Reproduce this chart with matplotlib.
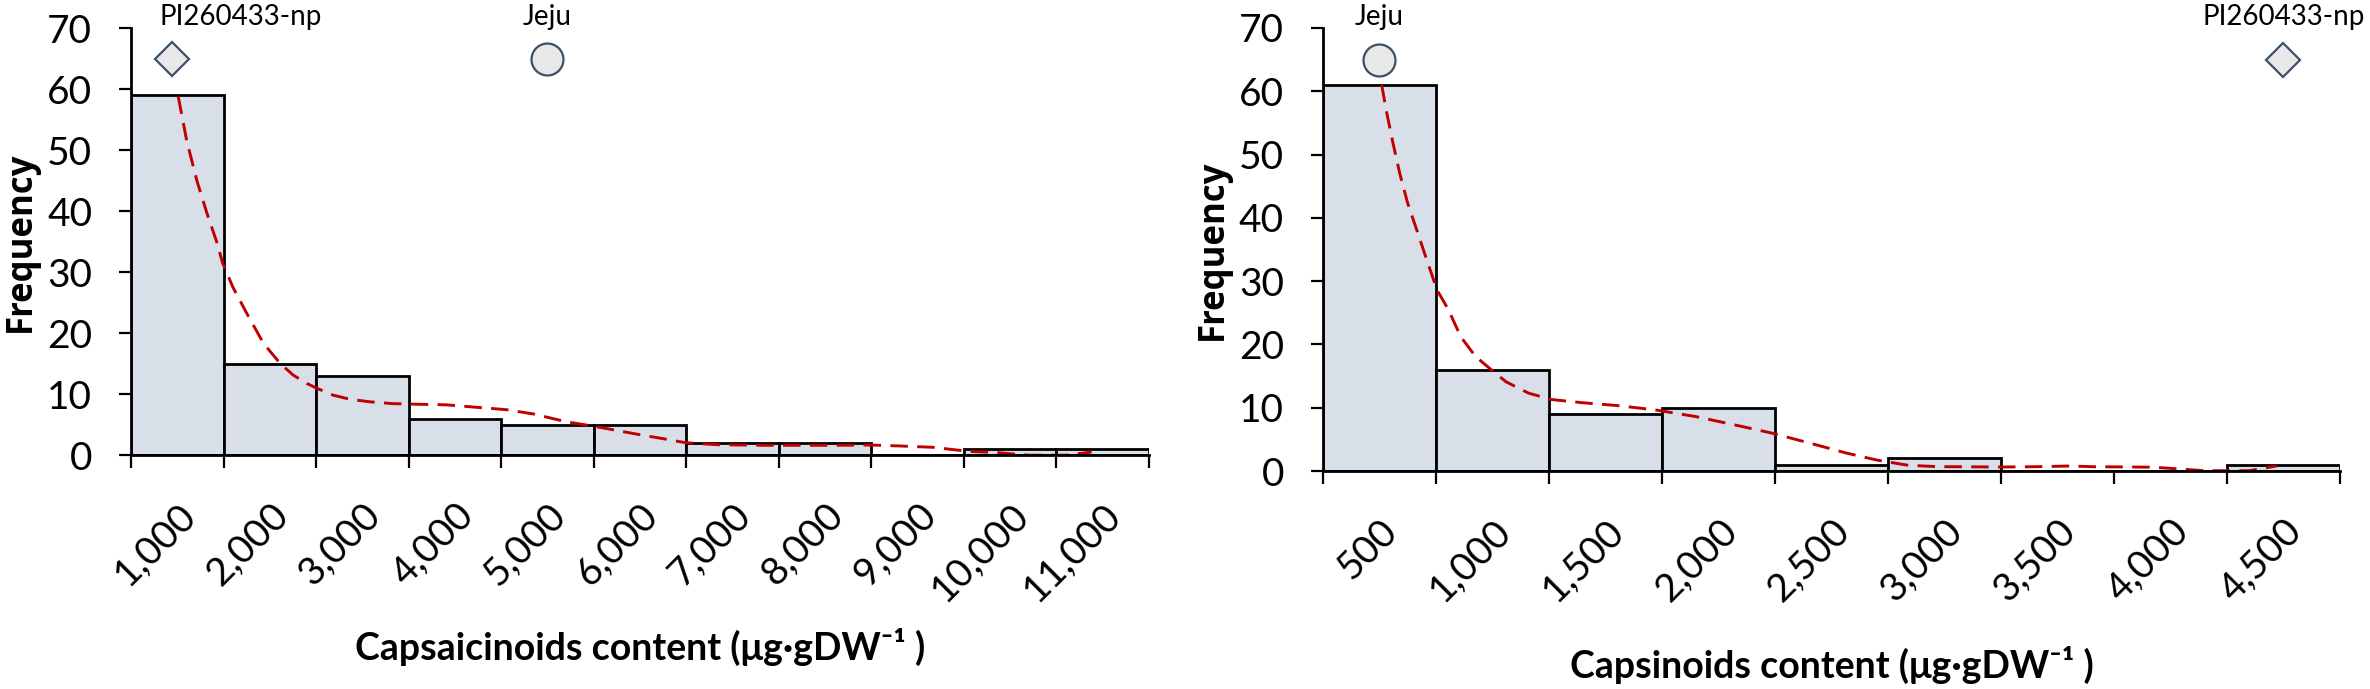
import numpy as np
import matplotlib.pyplot as plt

# Capsaicinoids histogram (left)
capsaicinoid_labels = ['1,000', '2,000', '3,000', '4,000', '5,000', '6,000',
                       '7,000', '8,000', '9,000', '10,000', '11,000']
capsaicinoid_freq = [59, 15, 13, 6, 5, 5, 2, 2, 0, 1, 1]
# density curve, x in bin index units
capsaicinoid_curve_x = [0.01, 0.10, 0.21, 0.32, 0.43, 0.49, 0.60, 0.75, 0.93, 1.11,
                        1.25, 1.40, 1.51, 1.68, 1.87, 2.08, 2.33, 2.59, 2.91, 3.56,
                        3.85, 4.21, 4.46, 4.68, 5.00, 5.29, 5.49, 5.83, 6.37, 7.09,
                        7.49, 7.81, 8.17, 8.42, 8.60, 8.82, 9.20, 9.60, 9.88]
capsaicinoid_curve_y = [58.8, 51.7, 45.1, 39.7, 34.8, 31.5, 27.6, 23.3, 18.4, 15.1,
                        13.2, 11.8, 11.0, 9.9, 9.2, 8.8, 8.5, 8.4, 8.3, 7.5,
                        6.8, 5.5, 4.9, 4.3, 3.4, 2.65, 2.1, 1.77, 1.67, 1.67,
                        1.72, 1.56, 1.34, 0.9, 0.63, 0.52, 0.05, 0.05, 0.57]
capsaicinoid_marks = [('PI260433-np', 'D', -0.06), ('Jeju', 'o', 4.0)]

# Capsinoids histogram (right)
capsinoid_labels = ['500', '1,000', '1,500', '2,000', '2,500', '3,000',
                    '3,500', '4,000', '4,500']
capsinoid_freq = [61, 16, 9, 10, 1, 2, 0, 0, 1]
capsinoid_curve_x = [0.02, 0.06, 0.12, 0.18, 0.25, 0.33, 0.42, 0.51, 0.61, 0.72,
                     0.85, 0.99, 1.12, 1.32, 1.52, 1.79, 2.13, 2.46, 2.80, 3.14,
                     3.47, 3.81, 4.14, 4.41, 4.68, 4.95, 5.08, 5.49, 5.82, 6.11,
                     6.31, 6.67, 6.85, 7.30, 7.70, 7.94]
capsinoid_curve_y = [61.0, 57.0, 51.8, 47.0, 42.3, 38.1, 33.3, 28.6, 25.5, 21.2,
                     18.1, 16.0, 14.1, 12.3, 11.3, 10.8, 10.3, 9.6, 8.6, 7.3,
                     6.0, 4.4, 2.8, 1.7, 0.9, 0.68, 0.68, 0.63, 0.68, 0.79,
                     0.68, 0.63, 0.6, 0.05, 0.05, 0.79]
capsinoid_marks = [('Jeju', 'o', 0.0), ('PI260433-np', 'D', 8.0)]

mark_level = 65

plt.rcParams['font.family'] = ['Lato', 'DejaVu Sans']
plt.rcParams['axes.linewidth'] = 2.0


def draw_histogram(ax, labels, freq, curve_x, curve_y, marks, xlabel, text_offset, label_y):
    n = len(freq)
    idx = np.arange(n)
    ax.bar(idx, freq, width=1.0, color='#d9dfe8', edgecolor='black', linewidth=2.0, zorder=1)
    ax.plot(curve_x, curve_y, color='#c00000', linewidth=2.1, linestyle=(0, (6, 3.2)), zorder=2)

    for name, marker, pos in marks:
        size = 17 if marker == 'D' else 23
        ax.plot([pos], [mark_level], marker=marker, markersize=size, markerfacecolor='#e8e8e8',
                markeredgecolor='#3c4f68', markeredgewidth=1.6, linestyle='none', clip_on=False, zorder=4)
        ax.text(pos + text_offset.get(name, 0), 71.8, name, ha='center', va='center',
                fontsize=20, clip_on=False)

    ax.set_xlim(-0.5, n - 0.5)
    ax.set_ylim(0, 70)
    ax.set_yticks(np.arange(0, 71, 10))
    ax.set_xticks(np.arange(n + 1) - 0.5)
    ax.set_xticklabels([])
    ax.set_xticks(idx, minor=True)
    ax.set_xticklabels(labels, minor=True, rotation=45, ha='right', va='top',
                       rotation_mode='anchor', fontsize=28)
    ax.tick_params(axis='x', which='major', direction='out', length=9.5, width=1.6)
    ax.tick_params(axis='x', which='minor', length=0, pad=30)
    ax.tick_params(axis='y', direction='out', length=9, width=1.6, labelsize=28, pad=19)
    for side in ['top', 'right']:
        ax.spines[side].set_visible(False)

    ax.set_ylabel('Frequency', fontsize=25, fontweight='bold', family='Open Sans')
    ax.yaxis.set_label_coords(-0.091, 0.5)
    ax.set_xlabel(xlabel, fontsize=27, fontweight='bold')
    ax.xaxis.set_label_coords(0.5, label_y)
    ax.xaxis.label.set_va('center')


fig = plt.figure(figsize=(23.7, 6.89), dpi=100)
ax1 = fig.add_axes([0.0553, 0.3389, 0.4295, 0.6200])
ax2 = fig.add_axes([0.5582, 0.3164, 0.4291, 0.6430])

draw_histogram(ax1, capsaicinoid_labels, capsaicinoid_freq, capsaicinoid_curve_x,
               capsaicinoid_curve_y, capsaicinoid_marks,
               'Capsaicinoids content (μg·gDW⁻¹ )', {'PI260433-np': 0.75}, -0.448)
draw_histogram(ax2, capsinoid_labels, capsinoid_freq, capsinoid_curve_x,
               capsinoid_curve_y, capsinoid_marks,
               'Capsinoids content (μg·gDW⁻¹ )', {}, -0.438)

plt.savefig('out.png', dpi=100)
